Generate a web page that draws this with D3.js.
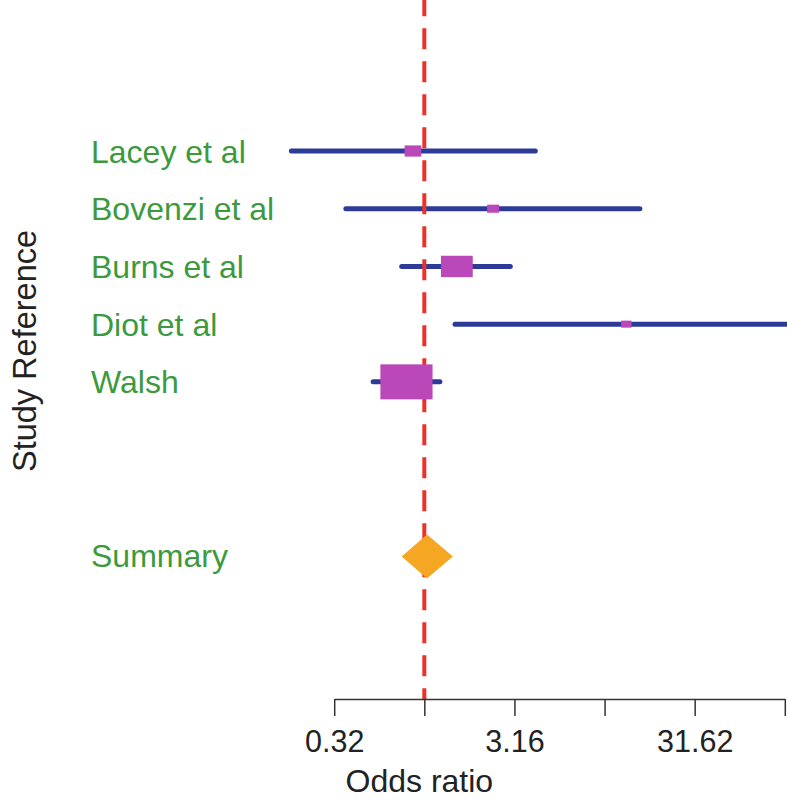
<!DOCTYPE html>
<html>
<head>
<meta charset="utf-8">
<script src="https://cdn.jsdelivr.net/npm/d3@7"></script>
<style>
  html, body { margin: 0; padding: 0; background: #fff; }
  svg { display: block; font-family: "Liberation Sans", Arial, sans-serif; }
</style>
</head>
<body>
<div id="chart"></div>
<script>
// ---- data ----
const studies = ["Lacey et al", "Bovenzi et al", "Burns et al", "Diot et al", "Walsh"];
const rows = [1, 2, 3, 4, 5];
const oddsRatio = [0.865, 2.41, 1.515, 13.2, 0.796];
const lowerCI = [0.183, 0.367, 0.749, 1.48, 0.52];
const upperCI = [4.13, 15.7, 3.0, 150, 1.22];
const boxWeight = [0.32, 0.23, 0.61, 0.2, 1.0];

const summaryLabel = "Summary";
const summaryRow = 8;
const summaryOR = 1.035;
const summaryLower = 0.749;
const summaryUpper = 1.44;

const tickValues = [Math.pow(10, -0.5), 1, Math.pow(10, 0.5), 10, Math.pow(10, 1.5), 100];
const tickLabels = ["0.32", "", "3.16", "", "31.62", ""];
const xTitle = "Odds ratio";
const yTitle = "Study Reference";

// ---- layout ----
const W = 787, H = 803;
const svg = d3.select("#chart").append("svg").attr("width", W).attr("height", H);

const x = d3.scaleLog().domain([Math.pow(10, -0.5), 100]).range([334.2, 784.8]);
const y = d3.scaleLinear().domain([1, 8]).range([151, 555]);
const boxH = d3.scaleLinear().domain([0, 1]).range([0, 35]);
const axisY = 699;

const blue = "#2c3b98", magenta = "#bb48b8", orange = "#f5a623", red = "#e8322a", green = "#3c9a3c";

const data = studies.map((s, i) => ({
  name: s, row: rows[i], or: oddsRatio[i], lo: lowerCI[i], hi: upperCI[i], w: boxWeight[i]
}));

// CI lines
svg.append("g").selectAll("line").data(data).join("line")
  .attr("x1", d => x(d.lo)).attr("x2", d => x(d.hi))
  .attr("y1", d => y(d.row)).attr("y2", d => y(d.row))
  .attr("stroke", blue).attr("stroke-width", 5).attr("stroke-linecap", "round");

// reference line at OR = 1
svg.append("line")
  .attr("x1", x(1)).attr("x2", x(1))
  .attr("y1", -4.7).attr("y2", axisY)
  .attr("stroke", red).attr("stroke-width", 4)
  .attr("stroke-dasharray", "21,12");

// boxes
svg.append("g").selectAll("rect").data(data).join("rect")
  .attr("x", d => x(d.or) - boxH(d.w) * 1.49 / 2)
  .attr("y", d => y(d.row) - boxH(d.w) / 2)
  .attr("width", d => boxH(d.w) * 1.49)
  .attr("height", d => boxH(d.w))
  .attr("fill", magenta);

// summary diamond
const sy = y(summaryRow) + 1.5, dh = 22;
svg.append("path")
  .attr("d", `M${x(summaryLower)},${sy} L${x(summaryOR)},${sy - dh} L${x(summaryUpper)},${sy} L${x(summaryOR)},${sy + dh} Z`)
  .attr("fill", orange);

// study labels
svg.append("g").selectAll("text").data(studies.concat([summaryLabel])).join("text")
  .attr("x", 91)
  .attr("y", (d, i) => i < studies.length ? y(rows[i]) : y(summaryRow))
  .attr("dy", "0.36em")
  .attr("fill", green)
  .attr("font-size", 32)
  .text(d => d);

// x axis
const axis = d3.axisBottom(x).tickValues(tickValues)
  .tickFormat((d, i) => tickLabels[i]).tickSize(17).tickSizeOuter(0);
const ag = svg.append("g").attr("transform", `translate(0,${axisY})`).call(axis);
ag.select(".domain").attr("stroke", "#333").attr("stroke-width", 1.5);
ag.selectAll(".tick line").attr("stroke", "#333").attr("stroke-width", 1.5);
ag.selectAll(".tick text").attr("font-size", 30.5).attr("fill", "#222")
  .attr("font-family", "Liberation Sans, Arial, sans-serif").attr("y", 31).attr("dy", "0.71em");

// axis titles
svg.append("text").attr("x", x(1) - 5).attr("y", 792).attr("text-anchor", "middle")
  .attr("font-size", 32).attr("fill", "#222").text(xTitle);
svg.append("text").attr("transform", "translate(36,351) rotate(-90)")
  .attr("text-anchor", "middle").attr("font-size", 32.5).attr("fill", "#222").text(yTitle);
</script>
</body>
</html>
